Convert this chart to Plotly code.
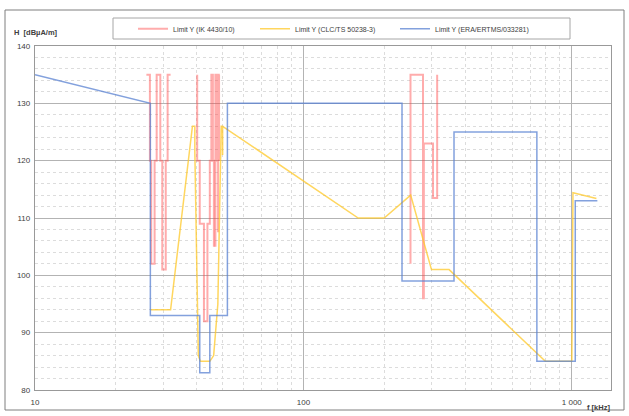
import plotly.graph_objects as go

# ---------------- data ----------------
red_name = "Limit Y (IK 4430/10)"
red_f = [26.0, 26.8, 26.8, 27.1, 27.1, 27.9, 27.9, 28.4, 28.4, 29.3, 29.3, 29.8, 29.8, 30.7, 30.7, 31.2, 31.2, 32.0,
         None,
         40.2, 40.2, 41.1, 41.1, 42.6, 42.6, 43.9, 43.9, 44.8, 44.8, 45.4, 45.4, 46.0, 46.0, 46.4, 46.4,
         None,
         47.0, 47.0, 47.7, 47.7, 48.1, 48.1,
         None,
         48.5, 48.5, 48.8,
         None,
         250.6, 250.6, 279.0, 279.0, 281.0, 281.0, 304.0, 304.0, 315.0, 315.0]
red_h = [135, 135, 120, 120, 102, 102, 120, 120, 135, 135, 120, 120, 101, 101, 120, 120, 135, 135,
         None,
         135, 120, 120, 109, 109, 92, 92, 109, 109, 120, 120, 135, 135, 120, 120, 105,
         None,
         105, 135, 135, 120, 120, 107.5,
         None,
         120, 135, 135,
         None,
         102, 135, 135, 96, 96, 123, 123, 113.5, 113.5, 135]

yellow_name = "Limit Y (CLC/TS 50238-3)"
yellow_f = [26.9, 32.0, 38.6, 39.4, 39.4, 40.6, 41.3, 44.8, 46.3, 48.0, 49.4, 50.0, 50.0, 50.0,
            160.0, 200.0, 251.0, 300.0, 349.0, 797.0, 1000.0, 1010.0, 1235.0]
yellow_h = [94, 94, 126, 126, 121.6, 86, 85, 85, 86, 95, 126, 126, 121, 126,
            110, 110, 114, 101, 101, 85, 85, 114.4, 113.4]

blue_name = "Limit Y (ERA/ERTMS/033281)"
blue_f = [10.0, 26.9, 26.9, 41.1, 41.1, 44.8, 44.8, 52.1, 52.1, 233.0, 233.0, 364.0, 364.0,
          741.0, 741.0, 1030.0, 1030.0, 1245.0]
blue_h = [135, 130, 93, 93, 83, 83, 93, 93, 130, 130, 99, 99, 125, 125, 85, 85, 113, 113]

x_major = [10, 100, 1000]
x_major_text = ["10", "100", "1 000"]
x_minor = [20, 30, 40, 50, 60, 70, 80, 90, 200, 300, 400, 500, 600, 700, 800, 900]
y_ticks = [80, 90, 100, 110, 120, 130, 140]

FONT = "Arial, Liberation Sans, sans-serif"

fig = go.Figure()
fig.add_trace(go.Scatter(x=red_f, y=red_h, mode="lines", name=red_name, legend="legend",
                         line=dict(color="rgba(255,70,70,0.45)", width=2), connectgaps=False))
fig.add_trace(go.Scatter(x=yellow_f, y=yellow_h, mode="lines", name=yellow_name, legend="legend2",
                         line=dict(color="rgba(255,200,40,0.75)", width=1.5)))
fig.add_trace(go.Scatter(x=blue_f, y=blue_h, mode="lines", name=blue_name, legend="legend3",
                         line=dict(color="rgba(90,130,210,0.75)", width=1.5)))

leg_common = dict(orientation="h", yanchor="middle", y=1.05, xanchor="left",
                  font=dict(family=FONT, size=7, color="#404040"), bgcolor="rgba(0,0,0,0)",
                  borderwidth=0, itemclick=False)

fig.update_layout(
    width=629, height=416,
    margin=dict(l=35, r=18, t=46, b=26, autoexpand=False),
    paper_bgcolor="white", plot_bgcolor="white",
    font=dict(family=FONT, size=8, color="#404040"),
    showlegend=True,
    legend=dict(x=(133 - 35) / 576, **leg_common),
    legend2=dict(x=(255 - 35) / 576, **leg_common),
    legend3=dict(x=(395 - 35) / 576, **leg_common),
    xaxis=dict(type="log", range=[1, 3.146], tickvals=x_major, ticktext=x_major_text,
               showgrid=True, gridcolor="#b3b3b3", gridwidth=1.3,
               minor=dict(tickvals=x_minor, showgrid=True, gridcolor="#dcdcdc", griddash="dot", ticklen=0),
               showline=True, linecolor="#999999", linewidth=1.3, mirror=True,
               ticks="", ticklabelstandoff=4, tickfont=dict(size=8, color="#404040"), zeroline=False),
    yaxis=dict(range=[80, 140], tickvals=y_ticks, showgrid=True, gridcolor="#b3b3b3", gridwidth=1.3,
               minor=dict(dtick=2, showgrid=True, gridcolor="#dcdcdc", griddash="dot", ticklen=0),
               showline=True, linecolor="#999999", linewidth=1.3, mirror=True,
               ticks="", ticklabelstandoff=2, tickfont=dict(size=8, color="#404040"), zeroline=False),
)

# outer frame and legend frame
fig.add_shape(type="rect", xref="paper", yref="paper",
              x0=(5 - 35) / 576, x1=(624 - 35) / 576, y0=(390 - 410) / 344, y1=(390 - 10) / 344,
              line=dict(color="#7f7f7f", width=1), fillcolor="rgba(0,0,0,0)", layer="below")
fig.add_shape(type="rect", xref="paper", yref="paper",
              x0=(113 - 35) / 576, x1=(570 - 35) / 576, y0=(390 - 39) / 344, y1=(390 - 18) / 344,
              line=dict(color="#a6a6a6", width=1), fillcolor="rgba(0,0,0,0)", layer="below")

fig.add_annotation(text="<b>H  [dBµA/m]</b>", xref="paper", yref="paper",
                   x=(12 - 35) / 576, y=(390 - 33) / 344, xanchor="left", yanchor="middle",
                   showarrow=False, font=dict(family=FONT, size=7.5, color="#404040"))
fig.add_annotation(text="<b>f [kHz]</b>", xref="paper", yref="paper",
                   x=(612 - 35) / 576, y=(390 - 407) / 344, xanchor="right", yanchor="middle",
                   showarrow=False, font=dict(family=FONT, size=7.5, color="#404040"))

fig.write_html("out.html", config={"displayModeBar": False},
               post_script="document.body.style.margin='0';")
